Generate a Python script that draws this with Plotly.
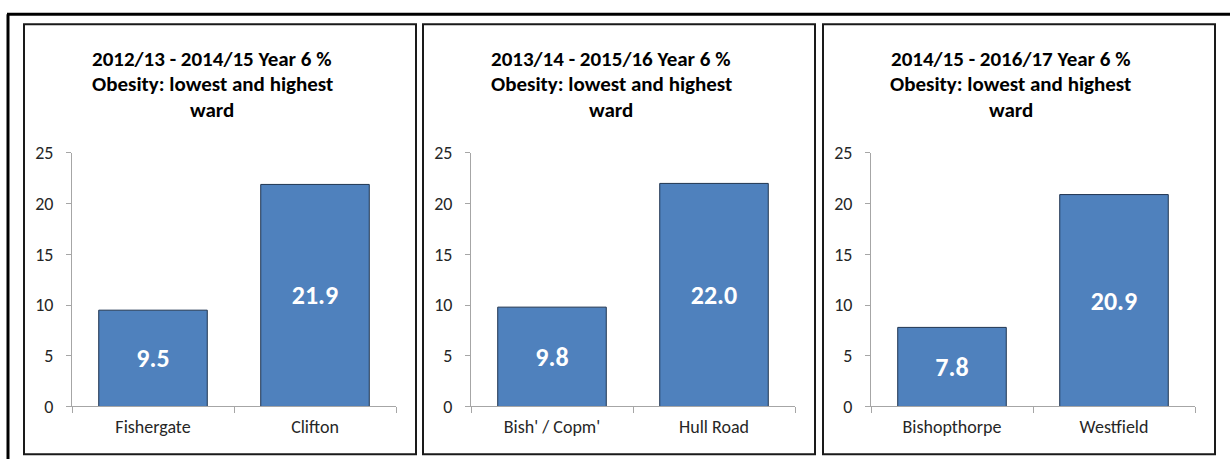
import plotly.graph_objects as go

W, H = 1230, 468

titles = [
    ["2012/13 - 2014/15 Year 6 %", "Obesity: lowest and highest", "ward"],
    ["2013/14 - 2015/16 Year 6 %", "Obesity: lowest and highest", "ward"],
    ["2014/15 - 2016/17 Year 6 %", "Obesity: lowest and highest", "ward"],
]
categories = [
    ["Fishergate", "Clifton"],
    ["Bish' / Copm'", "Hull Road"],
    ["Bishopthorpe", "Westfield"],
]
values = [
    [9.5, 21.9],
    [9.8, 22.0],
    [7.8, 20.9],
]
y_ticks = [0, 5, 10, 15, 20, 25]

FONT = "Carlito, 'Liberation Sans Narrow', 'Noto Sans', sans-serif"
BAR = "#4F81BD"
AX = "#A6A6A6"

fig = go.Figure()
offsets = [0, 399, 799]

def px_x(v):
    return v / W

def px_y(v):
    return 1 - v / H

shapes = []
annotations = []
for i in range(3):
    off = offsets[i]
    xa = "x" if i == 0 else f"x{i+1}"
    ya = "y" if i == 0 else f"y{i+1}"
    fig.add_trace(go.Bar(
        x=categories[i], y=values[i], xaxis=xa, yaxis=ya,
        marker=dict(color=BAR, line=dict(color="#1F3450", width=1)),
        text=[f"{v:.1f}" for v in values[i]],
        textposition="inside", insidetextanchor="middle",
        textfont=dict(family=FONT, size=26, color="white", weight="bold"),
        cliponaxis=False, showlegend=False, hoverinfo="skip",
    ))
    xkey = "xaxis" if i == 0 else f"xaxis{i+1}"
    ykey = "yaxis" if i == 0 else f"yaxis{i+1}"
    fig.layout[xkey] = dict(
        domain=[px_x(72 + off), px_x(396 + off)], anchor=ya,
        type="category", range=[-0.5, 1.5],
        showline=True, linecolor=AX, linewidth=1,
        ticks="outside", tickson="boundaries", ticklen=6, tickcolor=AX,
        tickfont=dict(family=FONT, size=18, color="#262626"),
        ticklabelstandoff=4, showgrid=False, zeroline=False, fixedrange=True,
    )
    fig.layout[ykey] = dict(
        domain=[px_y(415), px_y(149)], anchor=xa,
        range=[0, 25], tickvals=y_ticks,
        showline=True, linecolor=AX, linewidth=1,
        ticks="outside", ticklen=5, tickcolor=AX,
        tickfont=dict(family=FONT, size=18, color="#262626"),
        ticklabelstandoff=9, showgrid=False, zeroline=False, fixedrange=True,
    )
    # panel box
    shapes.append(dict(type="rect", xref="paper", yref="paper",
                       x0=px_x(24 + off), x1=px_x(416 + off),
                       y0=px_y(465), y1=px_y(14),
                       line=dict(color="#1a1a1a", width=2)))
    # title lines
    for j, (line, yc) in enumerate(zip(titles[i], [50, 77, 104])):
        annotations.append(dict(
            text=f"<b>{line}</b>", xref="paper", yref="paper",
            x=px_x(212 + off), y=px_y(yc), xanchor="center", yanchor="middle",
            showarrow=False, font=dict(family=FONT, size=21, color="#000"),
        ))

# outer frame lines
shapes.append(dict(type="line", xref="paper", yref="paper",
                   x0=px_x(7), x1=px_x(1232), y0=px_y(3.5), y1=px_y(3.5),
                   line=dict(color="#000", width=3)))
shapes.append(dict(type="line", xref="paper", yref="paper",
                   x0=px_x(8), x1=px_x(8), y0=px_y(3.5), y1=px_y(470),
                   line=dict(color="#000", width=3)))

fig.update_layout(
    width=W, height=H, margin=dict(l=0, r=0, t=0, b=0),
    paper_bgcolor="white", plot_bgcolor="white",
    bargap=0.33, shapes=shapes, annotations=annotations,
    font=dict(family=FONT),
)

fig.write_html(
    "out.html",
    config={"displayModeBar": False},
    post_script=(
        "var d=document.getElementById('{plot_id}');"
        "d.style.position='fixed';d.style.top='0px';d.style.left='0px';"
        "document.documentElement.style.overflow='hidden';"
        "document.body.style.margin='0';document.body.style.overflow='hidden';"
    ),
)
